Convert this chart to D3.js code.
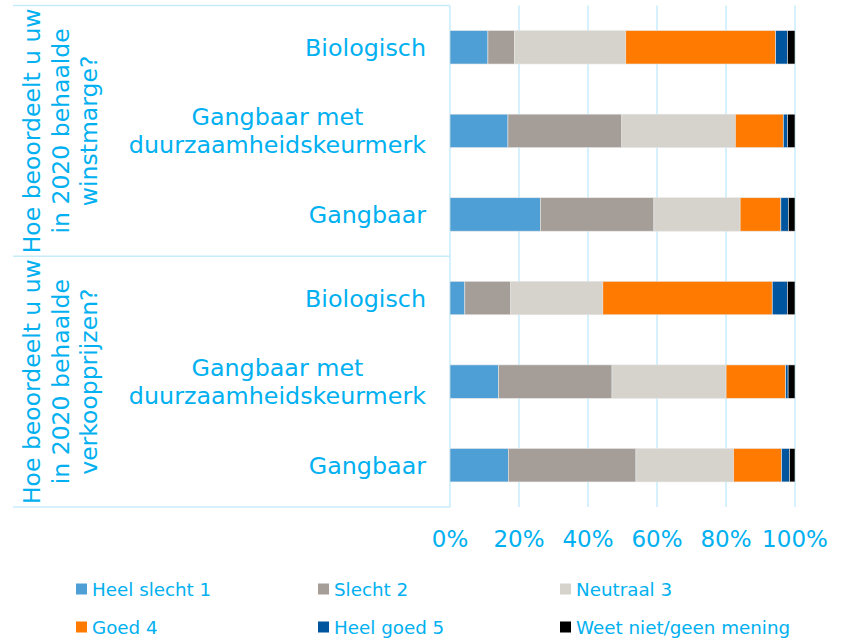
<!DOCTYPE html>
<html>
<head>
	<meta charset="utf-8">
	<title>Beoordeling winstmarge en verkoopprijzen 2020</title>
	<script src="https://d3js.org/d3.v7.min.js"></script>
	<style>
		body { margin: 0; background: white; }
		svg { display: block; }
		text { font-family: Verdana, "DejaVu Sans", sans-serif; fill: #00b0f0; }
	</style>
</head>
<body>
<script>

	// categories, top to bottom
	var categories = ["Biologisch", "Gangbaar met duurzaamheidskeurmerk", "Gangbaar",
		"Biologisch", "Gangbaar met duurzaamheidskeurmerk", "Gangbaar"];
	var catLines = [["Biologisch"], ["Gangbaar met", "duurzaamheidskeurmerk"], ["Gangbaar"],
		["Biologisch"], ["Gangbaar met", "duurzaamheidskeurmerk"], ["Gangbaar"]];

	// question groups (3 rows each)
	var groupLines = [
		["Hoe beoordeelt u uw", "in 2020 behaalde", "winstmarge?"],
		["Hoe beoordeelt u uw", "in 2020 behaalde", "verkoopprijzen?"]
	];

	var seriesNames = ["Heel slecht 1", "Slecht 2", "Neutraal 3", "Goed 4", "Heel goed 5", "Weet niet/geen mening"];
	var seriesColors = ["#4f9fd7", "#a59d97", "#d5d3cb", "#ff7a00", "#00559f", "#000000"];

	// percentages per row
	var heelSlecht = [11.0, 16.8, 26.2, 4.3, 14.1, 16.9];
	var slecht     = [7.7, 33.0, 32.9, 13.3, 32.9, 37.0];
	var neutraal   = [32.3, 32.9, 25.0, 26.7, 33.1, 28.3];
	var goed       = [43.5, 13.9, 11.8, 49.1, 17.3, 13.9];
	var heelGoed   = [3.4, 1.2, 2.2, 4.4, 0.7, 2.3];
	var weetNiet   = [2.2, 2.2, 1.9, 2.2, 2.0, 1.6];

	var tickValues = [0, 0.2, 0.4, 0.6, 0.8, 1];

	var width = 844, height = 638;
	var gridColor = "#c6ecfc";

	var seriesValues = [heelSlecht, slecht, neutraal, goed, heelGoed, weetNiet];
	var rows = categories.map(function(c, i) {
		var r = { idx: i };
		seriesNames.forEach(function(s, j) { r[s] = seriesValues[j][i]; });
		return r;
	});

	var stacked = d3.stack()
		.keys(seriesNames)
		.offset(d3.stackOffsetExpand)(rows);

	var svg = d3.select("body").append("svg")
		.attr("width", width)
		.attr("height", height);

	var x = d3.scaleLinear().domain([0, 1]).range([450, 795]);
	var y = d3.scaleBand()
		.domain(d3.range(categories.length))
		.range([5.5, 507])
		.paddingInner(0.6)
		.paddingOuter(0.3);

	// gridlines
	svg.append("g").selectAll("line")
		.data(tickValues)
		.enter().append("line")
		.attr("x1", function(d) { return x(d); })
		.attr("x2", function(d) { return x(d); })
		.attr("y1", y.range()[0])
		.attr("y2", y.range()[1])
		.attr("stroke", gridColor)
		.attr("stroke-width", 1.5);

	// frame lines around the group labels
	var groupEdges = [0, 3, 6].map(function(i) { return y.range()[0] + i * y.step(); });
	svg.append("g").selectAll("line")
		.data(groupEdges)
		.enter().append("line")
		.attr("x1", 13)
		.attr("x2", x(0))
		.attr("y1", function(d) { return d; })
		.attr("y2", function(d) { return d; })
		.attr("stroke", gridColor)
		.attr("stroke-width", 1.5);

	// bars
	svg.append("g").selectAll("g")
		.data(stacked)
		.enter().append("g")
		.attr("fill", function(d, i) { return seriesColors[i]; })
		.selectAll("rect")
		.data(function(d) { return d; })
		.enter().append("rect")
		.attr("x", function(d) { return x(d[0]); })
		.attr("width", function(d) { return x(d[1]) - x(d[0]); })
		.attr("y", function(d) { return y(d.data.idx); })
		.attr("height", y.bandwidth())
		.attr("stroke", "#e6e6e6")
		.attr("stroke-width", 0.6);

	// x axis labels
	svg.append("g").selectAll("text")
		.data(tickValues)
		.enter().append("text")
		.attr("x", function(d) { return x(d); })
		.attr("y", 547)
		.attr("text-anchor", "middle")
		.style("font-size", "23px")
		.text(d3.format(".0%"));

	// category labels: block centred, widest line right aligned at 426
	var catG = svg.append("g");
	catLines.forEach(function(lines, i) {
		var cy = y(i) + y.bandwidth() / 2;
		var t = catG.append("text")
			.attr("text-anchor", "middle")
			.style("font-size", "23.8px");
		lines.forEach(function(l, k) {
			t.append("tspan")
				.attr("y", cy + 8.5 + (k - (lines.length - 1) / 2) * 28)
				.text(l);
		});
		var maxW = 0;
		t.selectAll("tspan").each(function() {
			maxW = Math.max(maxW, this.getComputedTextLength());
		});
		t.selectAll("tspan").attr("x", 426 - maxW / 2);
	});

	// group labels, rotated
	groupLines.forEach(function(lines, g) {
		var cy = (groupEdges[g] + groupEdges[g + 1]) / 2;
		lines.forEach(function(l, k) {
			var bx = 40 + k * 28.5;
			svg.append("text")
				.attr("transform", "translate(" + bx + "," + cy + ") rotate(-90)")
				.attr("text-anchor", "middle")
				.style("font-size", "23.5px")
				.text(l);
		});
	});

	// legend
	var legend = svg.append("g");
	var legX = [76, 318, 560], legY = [589, 627];
	seriesNames.forEach(function(s, i) {
		var lx = legX[i % 3], ly = legY[Math.floor(i / 3)];
		legend.append("rect")
			.attr("x", lx)
			.attr("y", ly - 5.5)
			.attr("width", 11)
			.attr("height", 11)
			.attr("fill", seriesColors[i]);
		legend.append("text")
			.attr("x", lx + 16)
			.attr("y", ly + 6.5)
			.style("font-size", "18.3px")
			.text(s);
	});

</script>
</body>
</html>
